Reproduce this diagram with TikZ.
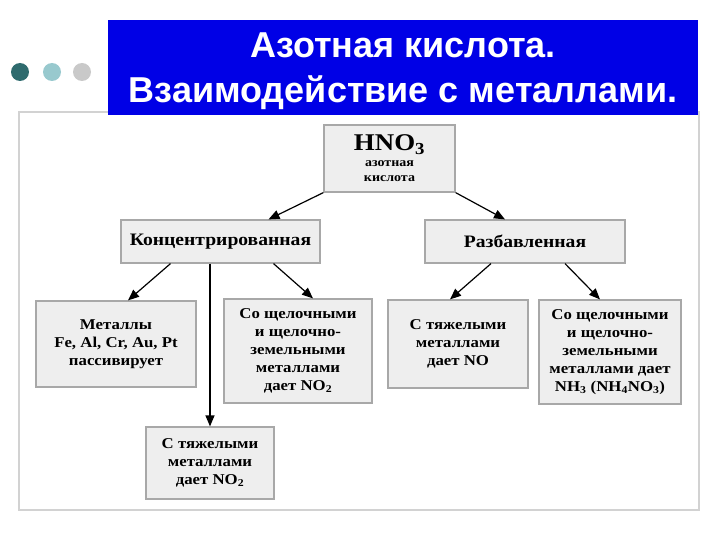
\documentclass[tikz,border=0pt]{standalone}
\usepackage{fontspec}
\setmainfont{Liberation Serif}
\newfontfamily\titlefont{Liberation Sans}
\newfontfamily\boxfont{Liberation Serif}[FakeStretch=1.12]
\usetikzlibrary{arrows.meta,calc,positioning}
\definecolor{titleblue}{HTML}{0000E6}
\definecolor{boxfill}{HTML}{EEEEEE}
\definecolor{boxline}{HTML}{A8A8A8}
\definecolor{dotdark}{HTML}{2F6B6E}
\definecolor{dotlight}{HTML}{98C9CE}
\definecolor{dotgray}{HTML}{C9C9C9}

\tikzset{
  box/.style={draw=boxline,fill=boxfill,line width=1.2pt,align=center,inner sep=2pt,
    font=\boxfont\bfseries\fontsize{15}{18}\selectfont},
  headbox/.style={box,font=\boxfont\bfseries\fontsize{17.5}{20}\selectfont},
  arr/.style={-{Triangle[length=11pt,width=9pt]},line width=1.2pt},
}

\begin{document}
\begin{tikzpicture}[x=1pt,y=-1pt]
  \useasboundingbox (0,0) rectangle (720,540);
  % рамка, точки и заголовок
  \draw[gray!35,line width=2pt] (19,112) rectangle (699,510);
  \fill[dotdark] (20,72) circle (9pt);
  \fill[dotlight] (52,72) circle (9pt);
  \fill[dotgray] (82,72) circle (9pt);
  \fill[titleblue] (108,20) rectangle (698,115);
  \node[text=white,align=center,
    font=\titlefont\bfseries\fontsize{36}{45}\selectfont] (title) at (403,71.5)
    {Азотная кислота.\\Взаимодействие с металлами.};

  % блоки
  \node[box,minimum width=131,minimum height=67] (hno) at (389.5,158.5)
    {{\fontsize{24}{20}\selectfont HNO\textsubscript{3}}\\[-2pt]
     {\fontsize{12.5}{14}\selectfont азотная}\\[-3pt]
     {\fontsize{12.5}{14}\selectfont кислота}};
  \node[headbox,minimum width=199,minimum height=43] (konc) at (220.5,241.5) {Концентрированная};
  \node[headbox,minimum width=200,minimum height=43] (razb) at (525,241.5) {Разбавленная};
  \node[box,minimum width=160,minimum height=86] (met) at (116,344)
    {Металлы\\Fe, Al, Cr, Au, Pt\\пассивирует};
  \node[box,minimum width=148,minimum height=104] (schel1) at (298,351)
    {Со щелочными\\и щелочно-\\земельными\\металлами\\дает NO\textsubscript{2}};
  \node[box,minimum width=140,minimum height=88] (tyazh) at (458,344)
    {С тяжелыми\\металлами\\дает NO};
  \node[box,minimum width=142,minimum height=104] (schel2) at (610,352)
    {Со щелочными\\и щелочно-\\земельными\\металлами дает\\NH\textsubscript{3} (NH\textsubscript{4}NO\textsubscript{3})};
  \node[box,minimum width=128,minimum height=72] (tyazh2) at (210,463)
    {С тяжелыми\\металлами\\дает NO\textsubscript{2}};

  % стрелки
  \draw[arr] (hno.south west) -- ($(konc.north)+(48,0)$);
  \draw[arr] (hno.south east) -- ($(razb.north)+(-20,0)$);
  \draw[arr] ($(konc.south)+(-50,0)$) -- ($(met.north)+(12,0)$);
  \draw[arr] (konc.south -| tyazh2.north) -- (tyazh2.north);
  \draw[arr] ($(konc.south)+(53,0)$) -- ($(schel1.north)+(15,0)$);
  \draw[arr] ($(razb.south)+(-34,0)$) -- ($(tyazh.north)+(-8,0)$);
  \draw[arr] ($(razb.south)+(40,0)$) -- ($(schel2.north)+(-10,0)$);
\end{tikzpicture}
\end{document}
